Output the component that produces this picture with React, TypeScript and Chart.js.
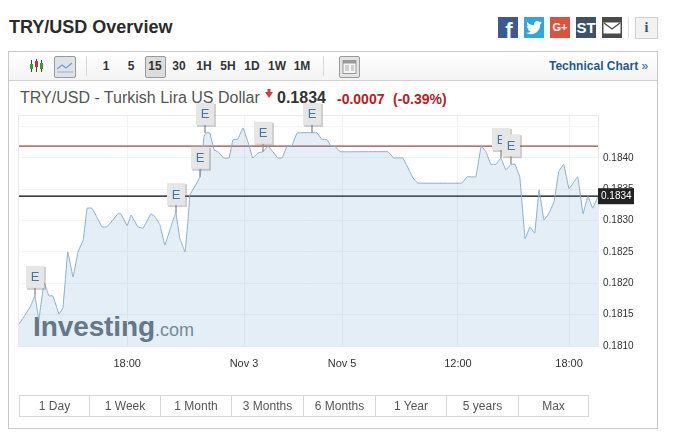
import React, { useEffect, useRef } from "react";
import { Chart, registerables } from "chart.js";

Chart.register(...registerables);

const slots = [0, 2.3, 3.3, 4.1, 5.2, 6.2, 7, 8.3, 9.1, 10.1, 11.2, 12.2, 13.3, 14.1, 15.1, 16.1, 17.2, 18.2, 20.5, 21.1, 22.4, 23.2, 24.6, 25.7, 27.3, 28.2, 29.2, 30.2, 31.9, 32.5, 33.3, 34.4, 35, 35.4, 37.5, 38.3, 38.7, 39.5, 40.4, 41.2, 42.4, 43.5, 44.3, 45.3, 46.4, 47.4, 48.4, 49.5, 50.5, 51.6, 53.6, 54.5, 55.5, 56.5, 57.6, 61.7, 62.7, 63.8, 64.6, 65.4, 66.5, 76.4, 77.6, 79.5, 81.6, 82.6, 91.7, 92.8, 94.6, 95.7, 96.7, 97.7, 98.8, 99.8, 100.8, 101.9, 102.7, 103.7, 104.8, 105.8, 106.8, 107.7, 108.7, 109.7, 110.8, 111.8, 112.8, 113.9, 115.7, 116.8, 117.8, 118.8, 119.9];
const prices = [0.18135, 0.18162, 0.1818, 0.18143, 0.18201, 0.1818, 0.1818, 0.18151, 0.18161, 0.1825, 0.1821, 0.1825, 0.18269, 0.1832, 0.1832, 0.18306, 0.1829, 0.1829, 0.18311, 0.18311, 0.18292, 0.18309, 0.1829, 0.18288, 0.18311, 0.18306, 0.18293, 0.18261, 0.18301, 0.18312, 0.18272, 0.1825, 0.18301, 0.18341, 0.1837, 0.18434, 0.1844, 0.1844, 0.18413, 0.1841, 0.184, 0.184, 0.18429, 0.1843, 0.18448, 0.18426, 0.184, 0.18408, 0.1841, 0.18419, 0.184, 0.184, 0.18419, 0.18419, 0.1844, 0.1844, 0.1843, 0.18429, 0.18419, 0.18419, 0.1841, 0.1841, 0.184, 0.184, 0.18368, 0.1836, 0.1836, 0.1837, 0.1837, 0.18419, 0.1841, 0.1839, 0.1839, 0.184, 0.18381, 0.1839, 0.1839, 0.1837, 0.18271, 0.1829, 0.1828, 0.18349, 0.18301, 0.18311, 0.1833, 0.18379, 0.1839, 0.18351, 0.1837, 0.18311, 0.18339, 0.1832, 0.18338];

const xTickSlots = [22.4, 46.6, 66.9, 90.9, 113.9];
const xTickLabels = ["18:00", "Nov 3", "Nov 5", "12:00", "18:00"];
const yTickValues = [0.181, 0.1815, 0.182, 0.1825, 0.183, 0.1835, 0.184, 0.1845];
const yTickLabels = ["0.1810", "0.1815", "0.1820", "0.1825", "0.1830", "0.1835", "0.1840", ""];

const eventSlots = [3.3, 38.5, 37.5, 32.5, 50.5, 60.6, 99.8, 101.9];
const eventPrices = [0.1818, 0.1844, 0.1837, 0.18312, 0.1841, 0.1844, 0.184, 0.1839];

const lastPrice = 0.18339;
const highLine = 0.18419;
const lastLabel = "0.1834";

const intervals = ["1", "5", "15", "30", "1H", "5H", "1D", "1W", "1M"];
const intervalCenters = [106, 131, 155, 179, 204, 228, 252, 277, 302];
const ranges = ["1 Day", "1 Week", "1 Month", "3 Months", "6 Months", "1 Year", "5 years", "Max"];
const rangeEdges = [19, 89, 160, 231, 303, 375, 446, 518, 588];

const FONT = '"Liberation Sans", Arial, sans-serif';

const overlayPlugin = {
  id: "overlay",
  afterDatasetsDraw(chart: any) {
    const { ctx, chartArea: a, scales } = chart;
    ctx.save();
    ctx.strokeStyle = "#eaeaea";
    ctx.lineWidth = 1;
    ctx.strokeRect(a.left - 0.5, a.top - 0.5, a.right - a.left + 1, a.bottom - a.top + 1);

    eventSlots.forEach((slot, i) => {
      const px = Math.round(scales.x.getPixelForValue(slot));
      const py = scales.y.getPixelForValue(eventPrices[i]);
      const w = 18;
      const h = 22;
      const bottom = py - 8;
      ctx.strokeStyle = "#9a9a9a";
      ctx.lineWidth = 1.5;
      ctx.beginPath();
      ctx.moveTo(px, bottom);
      ctx.lineTo(px, py);
      ctx.stroke();
      ctx.fillStyle = "rgba(120,120,120,0.35)";
      ctx.fillRect(px - w / 2 + 1, bottom - h + 1, w + 1, h + 1);
      ctx.fillStyle = "#e6e6e6";
      ctx.fillRect(px - w / 2, bottom - h, w, h);
      ctx.fillStyle = "#3f78ad";
      ctx.font = `13px ${FONT}`;
      ctx.textAlign = "center";
      ctx.textBaseline = "middle";
      ctx.fillText("E", px, bottom - h / 2 + 1);
    });

    const ty = scales.y.getPixelForValue(lastPrice);
    ctx.fillStyle = "#222222";
    ctx.fillRect(a.right, ty - 8, 36, 16);
    ctx.fillStyle = "#ffffff";
    ctx.font = `10px ${FONT}`;
    ctx.textAlign = "left";
    ctx.textBaseline = "middle";
    ctx.fillText(lastLabel, a.right + 3, ty + 0.5);
    ctx.restore();
  },
};

const abs = (left: number, top: number, extra: React.CSSProperties = {}): React.CSSProperties => ({
  position: "absolute",
  left,
  top,
  ...extra,
});

const socialBox = (left: number, bg: string, content: React.ReactNode) => (
  <div
    style={abs(left, 17, {
      width: 20,
      height: 21,
      background: bg,
      color: "#fff",
      textAlign: "center",
      overflow: "hidden",
    })}
  >
    {content}
  </div>
);

export default function App() {
  const ref = useRef<HTMLCanvasElement>(null);

  useEffect(() => {
    const chart = new Chart(ref.current as HTMLCanvasElement, {
      type: "line",
      data: {
        datasets: [
          {
            data: slots.map((s, i) => ({ x: s, y: prices[i] })),
            borderColor: "#8aaecb",
            borderWidth: 1,
            backgroundColor: "rgba(108,160,205,0.18)",
            fill: "start",
            pointRadius: 0,
            tension: 0.05,
          },
          {
            data: [{ x: 0, y: highLine }, { x: 119.9, y: highLine }],
            borderColor: "#a8413f",
            borderWidth: 1.2,
            pointRadius: 0,
            fill: false,
          },
          {
            data: [{ x: 0, y: lastPrice }, { x: 119.9, y: lastPrice }],
            borderColor: "#000000",
            borderWidth: 1.2,
            pointRadius: 0,
            fill: false,
          },
        ],
      },
      options: {
        animation: false,
        responsive: false,
        events: [],
        layout: { padding: { left: 19, top: 116, right: 0, bottom: 0 } },
        plugins: { legend: { display: false }, tooltip: { enabled: false }, title: { display: false } },
        scales: {
          x: {
            type: "linear",
            min: 0,
            max: 119.9,
            afterBuildTicks: (s: any) => {
              s.ticks = xTickSlots.map((value) => ({ value }));
            },
            afterFit: (s: any) => {
              s.height = 93;
            },
            grid: { color: "#f1f3f5", drawTicks: false, tickLength: 0 },
            border: { display: false },
            ticks: {
              autoSkip: false,
              maxRotation: 0,
              padding: 11,
              color: "#333333",
              font: { family: FONT, size: 11 },
              callback: (_v: any, i: number) => xTickLabels[i],
            },
          },
          y: {
            type: "linear",
            position: "right",
            min: 0.181,
            max: 0.18467,
            afterBuildTicks: (s: any) => {
              s.ticks = yTickValues.map((value) => ({ value }));
            },
            afterFit: (s: any) => {
              s.width = 75;
            },
            grid: { color: "#f3f4f6", drawTicks: false, tickLength: 0 },
            border: { display: false },
            ticks: {
              autoSkip: false,
              padding: 5,
              color: "#333333",
              font: { family: FONT, size: 10 },
              callback: (_v: any, i: number) => yTickLabels[i],
            },
          },
        },
      },
      plugins: [overlayPlugin],
    } as any);
    return () => chart.destroy();
  }, []);

  return (
    <div
      style={abs(0, 0, {
        width: 673,
        height: 439,
        background: "#fff",
        overflow: "hidden",
        fontFamily: FONT,
      })}
    >
      <div style={abs(9, 17, { fontSize: 18, fontWeight: 700, color: "#2b2b2b", lineHeight: "20px", whiteSpace: "nowrap" })}>
        TRY/USD Overview
      </div>

      {socialBox(498, "#3b5a94", <span style={{ fontSize: 22, fontWeight: 700, lineHeight: "27px", marginLeft: 2 }}>f</span>)}
      {socialBox(
        524,
        "#2fa6de",
        <svg width="20" height="21" viewBox="0 0 20 21">
          <path
            fill="#fff"
            d="M18 5.5c-.6.3-1.2.4-1.9.5.7-.4 1.2-1 1.4-1.8-.6.4-1.3.6-2 .8-.6-.6-1.4-1-2.4-1-1.8 0-3.2 1.5-3.2 3.2 0 .3 0 .5.1.7C7.300 8.300 4.900 7 3.300 5c-.3.5-.4 1-.4 1.600 0 1.100.6 2.100 1.400 2.700-.5 0-1-.2-1.500-.4 0 1.600 1.100 2.900 2.600 3.200-.5.1-1 .2-1.500.1.4 1.300 1.600 2.200 3 2.200-1.100.9-2.500 1.400-4 1.400H2c1.400.9 3.100 1.400 4.900 1.400 5.900 0 9.200-4.900 9.200-9.200v-.4c.7-.5 1.300-1.100 1.900-2.100z"
          />
        </svg>
      )}
      {socialBox(550, "#d9533f", <span style={{ fontSize: 11, fontWeight: 700, lineHeight: "21px" }}>G+</span>)}
      {socialBox(576, "#3b5268", <span style={{ fontSize: 15, fontWeight: 700, lineHeight: "21px" }}>ST</span>)}
      {socialBox(
        602,
        "#4a4a4a",
        <svg width="20" height="21" viewBox="0 0 20 21">
          <rect x="1.500" y="5.500" width="17" height="11" fill="#fff" />
          <path d="M2 6l8 6 8-6" fill="none" stroke="#4a4a4a" strokeWidth="1.300" />
        </svg>
      )}
      <div style={abs(628, 17, { width: 1, height: 21, background: "#ddd" })} />
      <div
        style={abs(635, 17, {
          width: 21,
          height: 20,
          background: "#f2f2f2",
          border: "1px solid #cfcfcf",
          textAlign: "center",
          color: "#3b5268",
          fontSize: 14,
          fontWeight: 700,
          fontFamily: '"Liberation Serif", serif',
          lineHeight: "20px",
        })}
      >
        i
      </div>

      <div style={abs(8, 51, { width: 648, height: 376, border: "1px solid #c8c8c8" })} />
      <div
        style={abs(9, 52, {
          width: 648,
          height: 28,
          background: "linear-gradient(#ffffff,#f4f4f4)",
          borderBottom: "1px solid #d2d2d2",
        })}
      />

      <svg style={abs(29, 58)} width="16" height="16" viewBox="0 0 16 16">
        <g strokeWidth="1">
          <path d="M2.500 2v12M7.500 1v13M12.500 2v12" stroke="#444" />
          <rect x="1" y="6" width="3" height="5" fill="#3a9a3a" />
          <rect x="6" y="3" width="3" height="6" fill="#c0392b" />
          <rect x="11" y="5" width="3" height="6" fill="#3a9a3a" />
        </g>
      </svg>
      <div
        style={abs(54, 56, {
          width: 20,
          height: 20,
          background: "#dfe3e8",
          border: "1px solid #9a9a9a",
          borderRadius: 2,
        })}
      >
        <svg width="20" height="20" viewBox="0 0 20 20">
          <path d="M2 12l5-4 4 3 6-5" fill="none" stroke="#6f9fc4" strokeWidth="1.200" />
          <path d="M2 15h16" stroke="#8fb2cc" strokeWidth="1" />
        </svg>
      </div>
      <div style={abs(86, 56, { width: 1, height: 20, background: "#d8d8d8" })} />
      <div
        style={abs(145, 56, {
          width: 19,
          height: 20,
          background: "#dcdcdc",
          border: "1px solid #9a9a9a",
          borderRadius: 2,
        })}
      />
      {intervals.map((t, i) => (
        <div
          key={t}
          style={abs(intervalCenters[i] - 15, 59, {
            width: 30,
            textAlign: "center",
            fontSize: 12,
            fontWeight: 700,
            color: "#333",
            lineHeight: "14px",
          })}
        >
          {t}
        </div>
      ))}
      <div style={abs(323, 56, { width: 1, height: 20, background: "#d8d8d8" })} />
      <div
        style={abs(339, 56, {
          width: 19,
          height: 20,
          background: "#e4e4e4",
          border: "1px solid #9a9a9a",
          borderRadius: 2,
        })}
      >
        <svg width="19" height="20" viewBox="0 0 19 20">
          <rect x="3" y="3.500" width="13" height="13" fill="#f4f4f4" stroke="#999" />
          <rect x="3" y="3.500" width="13" height="3" fill="#999" />
          <path d="M5 9h4M5 11h4M5 13h4M11 9h3M11 11h3M11 13h3" stroke="#aaa" />
        </svg>
      </div>
      <div style={abs(549, 59, { fontSize: 12, fontWeight: 700, color: "#1f5a8a", lineHeight: "14px", whiteSpace: "nowrap" })}>
        Technical Chart <span style={{ fontWeight: 400 }}>»</span>
      </div>

      <div style={abs(20, 89, { fontSize: 16, color: "#555", lineHeight: "18px", whiteSpace: "nowrap" })}>
        TRY/USD - Turkish Lira US Dollar
      </div>
      <svg style={abs(265, 89)} width="8" height="9" viewBox="0 0 8 9">
        <path d="M2.500 0h3v3H8L4 9 0 3h2.500z" fill="#d63a3a" />
      </svg>
      <div style={abs(277, 89, { fontSize: 16, fontWeight: 700, color: "#333", lineHeight: "18px" })}>0.1834</div>
      <div style={abs(337, 91, { fontSize: 14, fontWeight: 700, color: "#b22222", lineHeight: "16px" })}>-0.0007</div>
      <div style={abs(393, 91, { fontSize: 14, fontWeight: 700, color: "#b22222", lineHeight: "16px" })}>(-0.39%)</div>

      <div style={abs(33, 311, { fontSize: 28, fontWeight: 700, color: "#626f79", lineHeight: "32px", whiteSpace: "nowrap", letterSpacing: -0.1 })}>
        Investing
        <span style={{ fontSize: 18, fontWeight: 400, color: "#77848e", letterSpacing: 0 }}>.com</span>
      </div>

      <canvas ref={ref} width={673} height={439} style={abs(0, 0, { width: 673, height: 439 })} />

      {ranges.map((t, i) => (
        <div
          key={t}
          style={abs(rangeEdges[i], 395, {
            width: rangeEdges[i + 1] - rangeEdges[i] - 1,
            height: 20,
            borderTop: "1px solid #d8d8d8",
            borderBottom: "1px solid #d8d8d8",
            borderLeft: "1px solid #d8d8d8",
            borderRight: i === ranges.length - 1 ? "1px solid #d8d8d8" : "none",
            textAlign: "center",
            fontSize: 12,
            color: "#555",
            lineHeight: "20px",
          })}
        >
          {t}
        </div>
      ))}
    </div>
  );
}
